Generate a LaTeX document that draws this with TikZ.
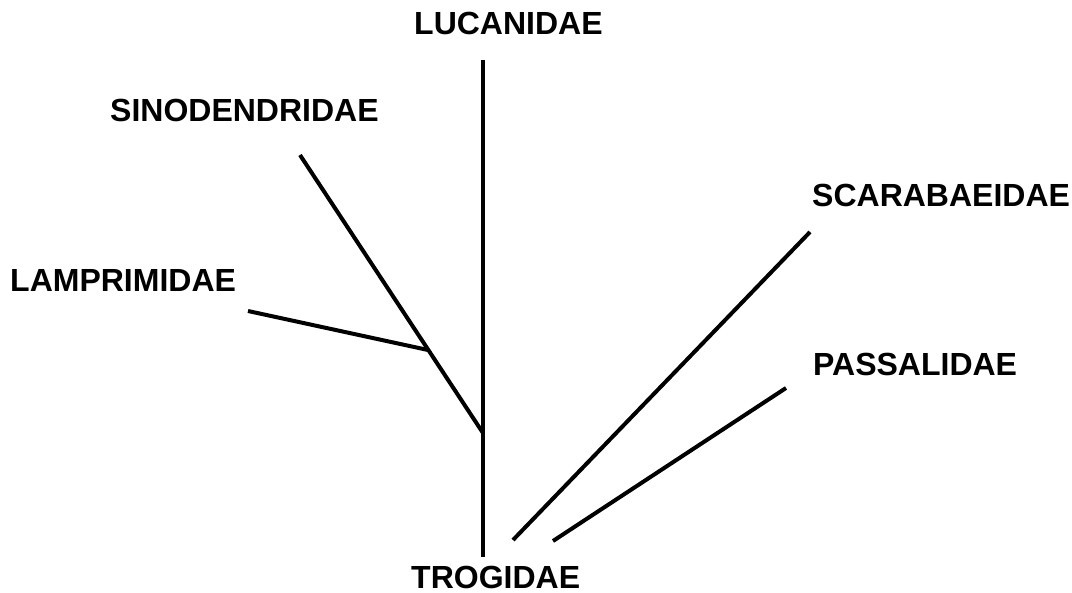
\documentclass[tikz,border=0pt]{standalone}
\usepackage{fontspec}
\setmainfont{Liberation Sans}
\begin{document}
\begin{tikzpicture}[x=1pt,y=-1pt,
  taxon/.style={font=\fontsize{32}{36}\selectfont\bfseries, inner sep=0pt, anchor=base west},
  branch/.style={line width=4pt, line cap=butt}]
\useasboundingbox (0,0) rectangle (1072,593);
\node[taxon] (luc) at (414,35) {LUCANIDAE};
\node[taxon] (sin) at (110,122) {SINODENDRIDAE};
\node[taxon] (lam) at (10,292) {LAMPRIMIDAE};
\node[taxon] (sca) at (812,207) {SCARABAEIDAE};
\node[taxon] (pas) at (813,376) {PASSALIDAE};
\node[taxon] (tro) at (411,588) {TROGIDAE};
\coordinate (top) at (483,60);
\coordinate (bot) at (483,557);
\coordinate (j1) at (483,433);
\coordinate (sinend) at (300,155);
\coordinate (j2) at (428,350);
\coordinate (lamend) at (248,311);
\coordinate (scaend) at (810,232);
\coordinate (scabase) at (513,540);
\coordinate (pasend) at (786,388);
\coordinate (pasbase) at (553,541);
\draw[branch] (top) -- (bot);
\draw[branch] (sinend) -- (j1);
\draw[branch] (lamend) -- (j2);
\draw[branch] (scaend) -- (scabase);
\draw[branch] (pasend) -- (pasbase);
\end{tikzpicture}
\end{document}
